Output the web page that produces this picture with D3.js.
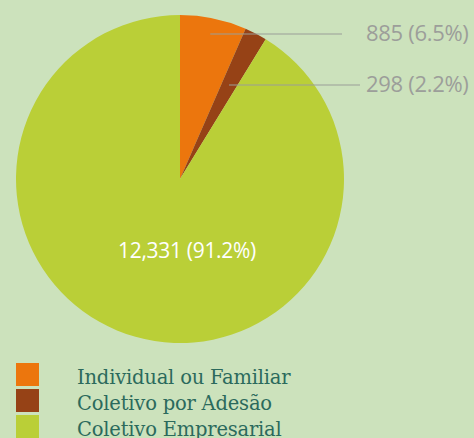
<!DOCTYPE html>
<html>
<head>
<meta charset="utf-8">
<script src="https://cdn.jsdelivr.net/npm/d3@7"></script>
<style>
  body { margin: 0; background: #cce2bc; }
</style>
</head>
<body>
<div id="wrapper"></div>
<script>
const categories = ["Individual ou Familiar", "Coletivo por Adesão", "Coletivo Empresarial"]
const values = [885, 298, 12331]
const labels = ["885 (6.5%)", "298 (2.2%)", "12,331 (91.2%)"]
const colors = ["#ec760d", "#964216", "#bacf37"]

const dms = { width: 474, height: 438, cx: 180, cy: 179, r: 164 }

const svg = d3.select("#wrapper")
  .append("svg")
  .attr("width", dms.width)
  .attr("height", dms.height)

svg.append("rect")
  .attr("width", dms.width)
  .attr("height", dms.height)
  .attr("fill", "#cce2bc")

const pie = d3.pie().sort(null).value(d => d)
const arcs = pie(values)
const arcGen = d3.arc().innerRadius(0).outerRadius(dms.r)

const bounds = svg.append("g")
  .attr("transform", `translate(${dms.cx},${dms.cy})`)

bounds.selectAll("path")
  .data(arcs)
  .join("path")
  .attr("d", arcGen)
  .attr("fill", (d, i) => colors[i])

// callouts for the two small slices
const callY = [34, 85]
const lineEnd = [342, 360]
arcs.slice(0, 2).forEach((a, i) => {
  const y = callY[i] - dms.cy
  const mid = (a.startAngle + a.endAngle) / 2
  const x0 = -y * Math.tan(mid)
  svg.append("line")
    .attr("x1", dms.cx + x0)
    .attr("x2", lineEnd[i])
    .attr("y1", callY[i])
    .attr("y2", callY[i])
    .attr("stroke", "#9a9d98")
    .attr("stroke-width", 1.2)
  svg.append("text")
    .attr("x", 366)
    .attr("y", callY[i] + 6.5)
    .attr("fill", "#9c9e9a")
    .style("font-family", "'Open Sans', sans-serif")
    .style("font-size", "22px")
    .style("letter-spacing", "-0.3px")
    .text(labels[i])
})

svg.append("text")
  .attr("x", 187)
  .attr("y", 258)
  .attr("text-anchor", "middle")
  .attr("fill", "#ffffff")
  .style("font-family", "'Open Sans', sans-serif")
  .style("font-size", "21px")
  .style("letter-spacing", "-0.3px")
  .text(labels[2])

// legend
const legend = svg.append("g")
  .attr("transform", "translate(16,363)")
const rows = legend.selectAll("g")
  .data(categories)
  .join("g")
  .attr("transform", (d, i) => `translate(0,${i * 26})`)
rows.append("rect")
  .attr("width", 23)
  .attr("height", 23)
  .attr("fill", (d, i) => colors[i])
rows.append("text")
  .attr("x", 61)
  .attr("y", 20.5)
  .attr("fill", "#2b6a5c")
  .style("font-family", "'DejaVu Serif', serif")
  .style("font-size", "19.5px")
  .style("letter-spacing", "-0.2px")
  .text(d => d)
</script>
</body>
</html>
